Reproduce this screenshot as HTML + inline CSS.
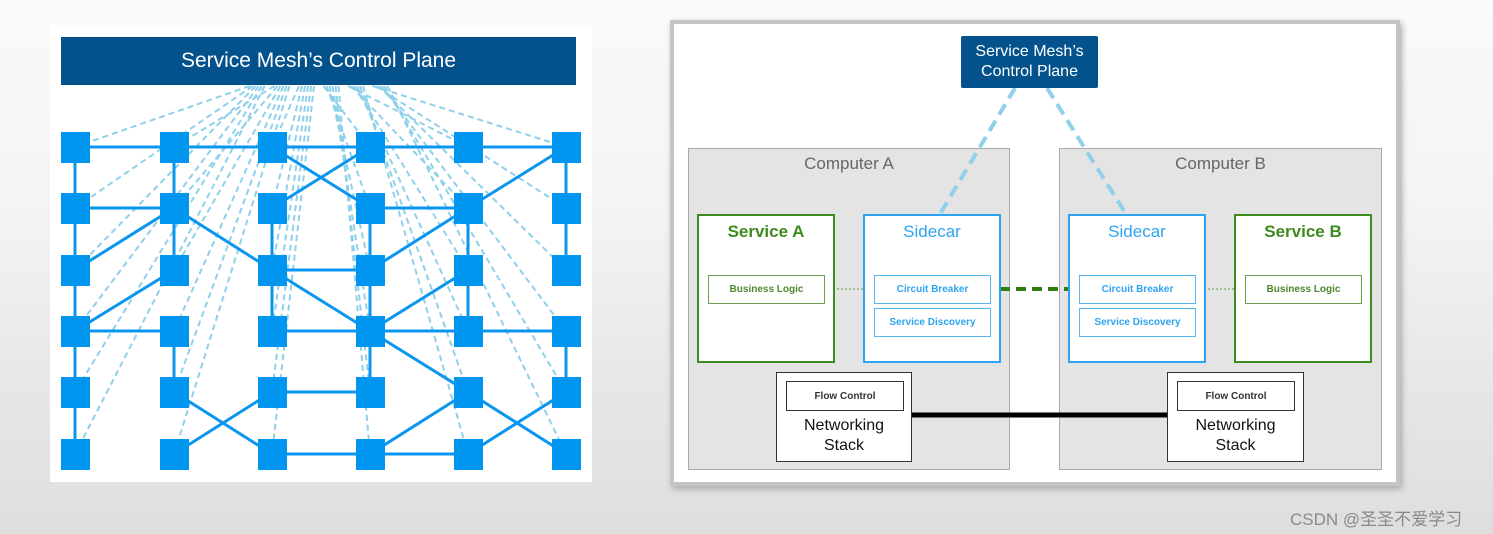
<!DOCTYPE html>
<html><head><meta charset="utf-8"><style>
html,body{margin:0;padding:0}
body{width:1493px;height:534px;position:relative;overflow:hidden;background:linear-gradient(#fafafa 0px,#f4f4f4 200px,#e6e6e6 400px,#dedede 534px);font-family:"Liberation Sans","DejaVu Sans",sans-serif}
.a{position:absolute;box-sizing:border-box}
.t{display:flex;align-items:center;justify-content:center;text-align:center}
</style></head><body>
<div class="a" style="left:50px;top:25px;width:542px;height:457px;background:#fff"></div>
<div class="a t" style="left:61px;top:37px;width:515px;height:48px;background:#03528c;color:#fff;font-size:21px">Service Mesh’s Control Plane</div>
<svg class="a" style="left:0;top:0" width="600" height="534" id="mesh"></svg>
<script>
var cx=[75,174,272,370,468,566],ry=[147,208,270,331,392,454];
var s='';
for(var i=0;i<6;i++)for(var j=0;j<6;j++){var ox=318+(cx[i]-318)*0.25+(j-2.5)*3;s+='<line x1="'+ox+'" y1="86" x2="'+cx[i]+'" y2="'+ry[j]+'" stroke="#8fd0ea" stroke-width="2" stroke-dasharray="6,4"/>';}
var E=[[0,0,5,0],[0,0,0,5],[1,0,1,1],[2,0,3,1],[3,0,2,1],[5,0,4,1],[5,0,5,1],[0,1,1,1],[3,1,4,1],[1,1,2,2],[0,2,1,1],[1,1,1,2],[2,1,2,3],[3,1,3,2],[3,2,3,3],[3,2,4,1],[4,1,4,3],[5,1,5,2],
[0,3,1,2],[0,3,1,3],[2,2,3,2],[2,2,3,3],[2,3,5,3],[3,3,3,4],[3,3,4,2],[3,3,4,4],[2,4,3,4],[2,5,4,5],[3,5,4,4],[1,3,1,4],[1,4,2,5],[1,5,2,4],[4,4,5,5],[4,5,5,4],[5,3,5,4]];
E.forEach(function(e){s+='<line x1="'+cx[e[0]]+'" y1="'+ry[e[1]]+'" x2="'+cx[e[2]]+'" y2="'+ry[e[3]]+'" stroke="#0a96ee" stroke-width="3"/>';});
for(var i=0;i<6;i++)for(var j=0;j<6;j++){s+='<rect x="'+(cx[i]-14)+'" y="'+(ry[j]-15)+'" width="29" height="31" fill="#0096f0"/>';}
document.getElementById('mesh').innerHTML=s;
</script>

<div class="a" style="left:670px;top:20px;width:730px;height:466px;background:#fff;border:4px solid #c4c4c4;box-shadow:2px 3px 6px #aaa"></div>
<div class="a" style="left:688px;top:148px;width:322px;height:322px;background:#e4e4e4;border:1px solid #aaa"></div>
<div class="a" style="left:1059px;top:148px;width:323px;height:322px;background:#e4e4e4;border:1px solid #aaa"></div>
<div class="a t" style="left:688px;top:152px;width:322px;height:24px;color:#666;font-size:17px">Computer A</div>
<div class="a t" style="left:1059px;top:152px;width:323px;height:24px;color:#666;font-size:17px">Computer B</div>
<svg class="a" style="left:0;top:0" width="1493" height="534">
<line x1="1015" y1="88" x2="940" y2="214" stroke="#8fd0ea" stroke-width="4" stroke-dasharray="12,7"/>
<line x1="1047" y1="88" x2="1126" y2="214" stroke="#8fd0ea" stroke-width="4" stroke-dasharray="12,7"/>
<line x1="1000" y1="289" x2="1068" y2="289" stroke="#2e7d0e" stroke-width="4" stroke-dasharray="10,6"/>
<line x1="825" y1="289" x2="863" y2="289" stroke="#5a9a3a" stroke-width="1" stroke-dasharray="2,2"/>
<line x1="1196" y1="289" x2="1245" y2="289" stroke="#5a9a3a" stroke-width="1" stroke-dasharray="2,2"/>
<line x1="911" y1="415" x2="1167" y2="415" stroke="#000" stroke-width="5"/>
</svg>
<div class="a t" style="left:961px;top:36px;width:137px;height:52px;background:#03528c;color:#fff;font-size:16px;line-height:20px;border-radius:2px">Service Mesh’s<br>Control Plane</div>

<div class="a" style="left:697px;top:214px;width:138px;height:149px;background:#fff;border:2px solid #3d8a1d"></div>
<div class="a t" style="left:697px;top:221px;width:138px;height:22px;color:#3d8a1d;font-size:17px;font-weight:bold">Service A</div>
<div class="a t" style="left:708px;top:275px;width:117px;height:29px;border:1px solid #6a9e50;color:#4d8a2d;font-size:10px;font-weight:bold">Business Logic</div>

<div class="a" style="left:863px;top:214px;width:138px;height:149px;background:#fff;border:2px solid #2ea4f0"></div>
<div class="a t" style="left:863px;top:221px;width:138px;height:22px;color:#2ea4f0;font-size:17px">Sidecar</div>
<div class="a t" style="left:874px;top:275px;width:117px;height:29px;border:1px solid #5ab8f0;color:#2ea4f0;font-size:10px;font-weight:bold">Circuit Breaker</div>
<div class="a t" style="left:874px;top:308px;width:117px;height:29px;border:1px solid #5ab8f0;color:#2ea4f0;font-size:10px;font-weight:bold">Service Discovery</div>

<div class="a" style="left:1068px;top:214px;width:138px;height:149px;background:#fff;border:2px solid #2ea4f0"></div>
<div class="a t" style="left:1068px;top:221px;width:138px;height:22px;color:#2ea4f0;font-size:17px">Sidecar</div>
<div class="a t" style="left:1079px;top:275px;width:117px;height:29px;border:1px solid #5ab8f0;color:#2ea4f0;font-size:10px;font-weight:bold">Circuit Breaker</div>
<div class="a t" style="left:1079px;top:308px;width:117px;height:29px;border:1px solid #5ab8f0;color:#2ea4f0;font-size:10px;font-weight:bold">Service Discovery</div>

<div class="a" style="left:1234px;top:214px;width:138px;height:149px;background:#fff;border:2px solid #3d8a1d"></div>
<div class="a t" style="left:1234px;top:221px;width:138px;height:22px;color:#3d8a1d;font-size:17px;font-weight:bold">Service B</div>
<div class="a t" style="left:1245px;top:275px;width:117px;height:29px;border:1px solid #6a9e50;color:#4d8a2d;font-size:10px;font-weight:bold">Business Logic</div>

<div class="a" style="left:776px;top:372px;width:136px;height:90px;background:#fff;border:1px solid #333"></div>
<div class="a t" style="left:786px;top:381px;width:118px;height:30px;border:1px solid #333;color:#333;font-size:10px;font-weight:bold">Flow Control</div>
<div class="a t" style="left:776px;top:414px;width:136px;height:44px;color:#111;font-size:16px;line-height:20px">Networking<br>Stack</div>
<div class="a" style="left:1167px;top:372px;width:137px;height:90px;background:#fff;border:1px solid #333"></div>
<div class="a t" style="left:1177px;top:381px;width:118px;height:30px;border:1px solid #333;color:#333;font-size:10px;font-weight:bold">Flow Control</div>
<div class="a t" style="left:1167px;top:414px;width:137px;height:44px;color:#111;font-size:16px;line-height:20px">Networking<br>Stack</div>

<div class="a" style="left:1290px;top:505px;color:#8a8a8a;font-size:17px;font-family:'Liberation Sans','Noto Sans CJK SC',sans-serif">CSDN @圣圣不爱学习</div>
</body></html>
